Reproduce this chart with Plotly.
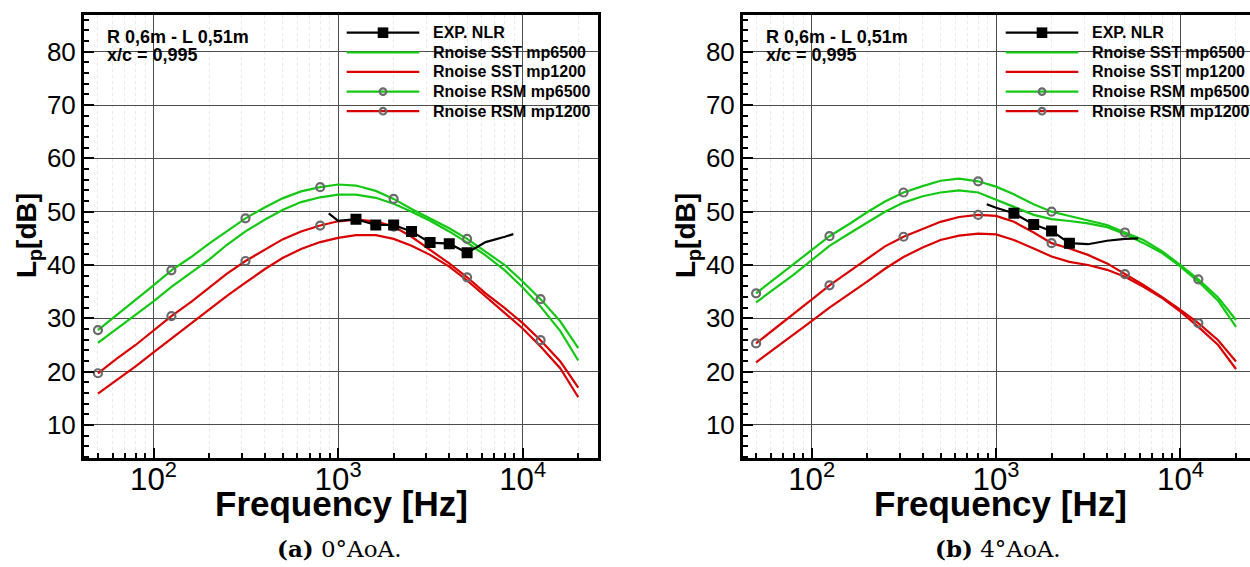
import plotly.graph_objects as go

# ---------------- data ----------------
FREQ = [50, 63, 80, 100, 125, 160, 200, 250, 315, 400, 500, 630, 800, 1000,
        1250, 1600, 2000, 2500, 3150, 4000, 5000, 6300, 8000, 10000, 12500,
        16000, 20000]

# (a) 0 deg AoA
A0_SST_6500 = [25.4, 28.0, 30.6, 33.2, 35.9, 38.5, 41.0, 43.8, 46.3, 48.5, 50.3,
               51.8, 52.7, 53.2, 53.2, 52.6, 51.5, 50.0, 48.3, 46.3, 44.2, 41.8,
               39.0, 35.8, 32.2, 27.6, 22.1]
A0_SST_1200 = [15.9, 18.4, 21.0, 23.6, 26.2, 28.9, 31.6, 34.2, 36.7, 39.2, 41.3,
               43.0, 44.3, 45.1, 45.6, 45.6, 44.9, 43.6, 41.9, 39.7, 37.1, 34.1,
               30.9, 28.1, 24.7, 20.6, 15.2]
A0_RSM_6500 = [27.8, 30.6, 33.4, 36.2, 39.0, 41.5, 44.0, 46.4, 48.75, 50.8, 52.5,
               53.8, 54.6, 55.1, 54.9, 53.9, 52.4, 50.5, 48.75, 46.9, 44.9, 42.5,
               40.0, 36.9, 33.6, 29.4, 24.4]
A0_RSM_1200 = [19.7, 22.4, 25.0, 27.7, 30.4, 33.1, 35.8, 38.4, 40.75, 42.9, 44.8,
               46.3, 47.4, 48.2, 48.5, 48.2, 47.2, 45.3, 42.9, 40.3, 37.7, 34.7,
               31.9, 29.1, 25.9, 21.9, 17.0]
A0_EXP_F = [890, 1000, 1250, 1600, 2000, 2500, 3150, 4000, 5000, 6300, 8000, 8900]
A0_EXP_L = [49.7, 48.3, 48.6, 47.5, 47.5, 46.3, 44.2, 44.0, 42.3, 44.3, 45.3, 45.8]
A0_EXP_MARKED = [1250, 1600, 2000, 2500, 3150, 4000, 5000]

# (b) 4 deg AoA
A4_SST_6500 = [33.0, 35.6, 38.2, 40.9, 43.6, 45.9, 48.0, 50.0, 51.7, 52.9, 53.6,
               54.0, 53.6, 52.3, 50.9, 49.4, 48.6, 48.25, 47.8, 47.1, 45.8, 44.1,
               42.2, 39.7, 36.9, 33.3, 28.4]
A4_SST_1200 = [21.75, 24.3, 26.9, 29.5, 32.0, 34.5, 36.9, 39.3, 41.5, 43.3, 44.7,
               45.5, 45.9, 45.75, 44.7, 43.1, 41.6, 40.6, 40.0, 39.1, 37.8, 35.9,
               33.75, 31.25, 28.4, 25.0, 20.5]
A4_RSM_6500 = [34.7, 37.4, 40.1, 42.8, 45.4, 47.7, 49.9, 51.9, 53.6, 54.8, 55.8,
               56.2, 55.7, 54.7, 53.25, 51.4, 50.0, 49.2, 48.4, 47.5, 46.1, 44.7,
               42.5, 40.0, 37.3, 33.9, 29.7]
A4_RSM_1200 = [25.3, 28.0, 30.8, 33.5, 36.2, 38.8, 41.3, 43.5, 45.3, 46.8, 48.1,
               49.0, 49.4, 49.2, 48.1, 46.1, 44.1, 43.1, 41.9, 40.3, 38.3, 36.25,
               33.9, 31.6, 29.1, 25.9, 21.9]
A4_EXP_F = [890, 1000, 1250, 1600, 2000, 2500, 3150, 4000, 5000, 5900]
A4_EXP_L = [51.4, 50.75, 49.7, 47.6, 46.4, 44.1, 43.9, 44.55, 44.9, 45.0]
A4_EXP_MARKED = [1250, 1600, 2000, 2500]

LEGEND_NAMES = ["EXP. NLR", "Rnoise SST mp6500", "Rnoise SST mp1200",
                "Rnoise RSM mp6500", "Rnoise RSM mp1200"]
INFO_LINES = ["R 0,6m - L 0,51m", "x/c = 0,995"]
CAPTIONS = [("(a)", "0°AoA."), ("(b)", "4°AoA.")]

# ---------------- styling ----------------
W, H = 1250, 567
GREEN = "#14c814"
RED = "#d80000"
MARK_GRAY = "#6a6a6a"
SANS = "Liberation Sans, Arial, sans-serif"
SERIF = "DejaVu Serif, Liberation Serif, serif"


def px(x):
    return x / W


def py(y):
    return 1 - y / H


fig = go.Figure()

panels = [
    dict(xa="x", ya="y", sst65=A0_SST_6500, sst12=A0_SST_1200, rsm65=A0_RSM_6500,
         rsm12=A0_RSM_1200, ef=A0_EXP_F, el=A0_EXP_L, em=A0_EXP_MARKED),
    dict(xa="x2", ya="y2", sst65=A4_SST_6500, sst12=A4_SST_1200, rsm65=A4_RSM_6500,
         rsm12=A4_RSM_1200, ef=A4_EXP_F, el=A4_EXP_L, em=A4_EXP_MARKED),
]

for p in panels:
    common = dict(xaxis=p["xa"], yaxis=p["ya"], showlegend=False, hoverinfo="skip")
    for vals, col in [(p["sst65"], GREEN), (p["sst12"], RED),
                      (p["rsm65"], GREEN), (p["rsm12"], RED)]:
        fig.add_trace(go.Scatter(x=FREQ, y=vals, mode="lines",
                                 line=dict(color=col, width=2.2), **common))
    for vals in [p["rsm65"], p["rsm12"]]:
        fig.add_trace(go.Scatter(x=FREQ[::4], y=vals[::4], mode="markers",
                                 marker=dict(symbol="circle-open", size=8,
                                             color=MARK_GRAY, line=dict(width=2.2)),
                                 **common))
    fig.add_trace(go.Scatter(x=p["ef"], y=p["el"], mode="lines",
                             line=dict(color="black", width=2.2), **common))
    mk = [i for i, f in enumerate(p["ef"]) if f in p["em"]]
    fig.add_trace(go.Scatter(x=[p["ef"][i] for i in mk], y=[p["el"][i] for i in mk],
                             mode="markers",
                             marker=dict(symbol="square", size=11, color="black"),
                             **common))

# ---------------- axes ----------------
TOP, BOT = 14.7, 458.0
xcommon = dict(type="log", dtick=1, exponentformat="power", showexponent="all",
               showgrid=True, gridcolor="#4d4d4d", gridwidth=1.2,
               ticks="inside", ticklen=10, tickwidth=2, tickcolor="black",
               showline=True, linewidth=3, linecolor="black", mirror=True,
               zeroline=False, ticklabelstandoff=-7,
               minor=dict(ticks="inside", ticklen=5, tickwidth=1.5,
                          tickcolor="black", showgrid=True, gridcolor="#e8e8e8",
                          griddash="dot", gridwidth=1),
               tickfont=dict(family=SANS, size=25, color="black"))
ycommon = dict(range=[3.81, 86.94], dtick=10, tick0=0,
               showgrid=True, gridcolor="#4d4d4d", gridwidth=1.2,
               ticks="inside", ticklen=10, tickwidth=2, tickcolor="black",
               showline=True, linewidth=3, linecolor="black",
               zeroline=False,
               minor=dict(dtick=2, tick0=0, ticks="inside", ticklen=5,
                          tickwidth=1.5, tickcolor="black", showgrid=False),
               tickfont=dict(family=SANS, size=26, color="black"),
               domain=[py(BOT), py(TOP)])

x1 = dict(xcommon); x1.update(domain=[px(84), px(598)], range=[1.6235, 4.408], anchor="y")
x2 = dict(xcommon); x2.update(domain=[px(743), 1.0], range=[1.628, 4.377], anchor="y2")
y1 = dict(ycommon); y1.update(anchor="x", mirror=True)
y2 = dict(ycommon); y2.update(anchor="x2", mirror=False)

fig.update_layout(xaxis=x1, xaxis2=x2, yaxis=y1, yaxis2=y2)

# ---------------- legends, labels, captions ----------------
shapes = []
annotations = []
ROWS = [32.7, 52.3, 71.9, 91.6, 111.2]
legend_styles = [("black", "square"), (GREEN, None), (RED, None),
                 (GREEN, "circle"), (RED, "circle")]

panel_geom = [
    dict(left=84, right=598, leg_x0=346.7, leg_x1=419.3, leg_tx=431.0, info_x=105,
         ytitle_x=28),
    dict(left=743, right=1257, leg_x0=1005.7, leg_x1=1078.3, leg_tx=1090.0, info_x=764,
         ytitle_x=687),
]

for g, (cap_a, cap_b) in zip(panel_geom, CAPTIONS):
    cx = (g["leg_x0"] + g["leg_x1"]) / 2
    for row, name, (col, mk) in zip(ROWS, LEGEND_NAMES, legend_styles):
        shapes.append(dict(type="line", xref="paper", yref="paper",
                           x0=px(g["leg_x0"]), x1=px(g["leg_x1"]),
                           y0=py(row), y1=py(row),
                           line=dict(color=col, width=2.2)))
        if mk == "square":
            s = 5.3
            shapes.append(dict(type="rect", xref="paper", yref="paper",
                               x0=px(cx - s), x1=px(cx + s), y0=py(row + s), y1=py(row - s),
                               fillcolor="black", line=dict(width=0)))
        elif mk == "circle":
            r = 3.3
            shapes.append(dict(type="circle", xref="paper", yref="paper",
                               x0=px(cx - r), x1=px(cx + r), y0=py(row + r), y1=py(row - r),
                               line=dict(color=MARK_GRAY, width=2.2)))
        annotations.append(dict(text="<b>%s</b>" % name, xref="paper", yref="paper",
                                x=px(g["leg_tx"]), y=py(row), xanchor="left",
                                yanchor="middle", showarrow=False,
                                font=dict(family=SANS, size=16, color="black")))
    for yy, line in zip([37.0, 55.3], INFO_LINES):
        annotations.append(dict(text="<b>%s</b>" % line, xref="paper", yref="paper",
                                x=px(g["info_x"]), y=py(yy), xanchor="left",
                                yanchor="middle", showarrow=False,
                                font=dict(family=SANS, size=18, color="black")))
    mid = (g["left"] + g["right"]) / 2
    annotations.append(dict(text="<b>Frequency [Hz]</b>", xref="paper", yref="paper",
                            x=px(mid), y=py(503), xanchor="center", yanchor="middle",
                            showarrow=False,
                            font=dict(family=SANS, size=35, color="black")))
    annotations.append(dict(text="<b>L<sub>p</sub>[dB]</b>", xref="paper", yref="paper",
                            x=px(g["ytitle_x"]), y=py(236), xanchor="center",
                            yanchor="middle", textangle=-90, showarrow=False,
                            font=dict(family=SANS, size=28, color="black")))
    annotations.append(dict(text="<b>%s</b> %s" % (cap_a, cap_b), xref="paper",
                            yref="paper", x=px(mid - 2), y=py(548), xanchor="center",
                            yanchor="middle", showarrow=False,
                            font=dict(family=SERIF, size=23, color="black")))

fig.update_layout(
    width=W, height=H,
    margin=dict(l=0, r=0, t=0, b=0),
    paper_bgcolor="white", plot_bgcolor="white",
    showlegend=False,
    shapes=shapes, annotations=annotations,
)

fig.write_html("out.html")
